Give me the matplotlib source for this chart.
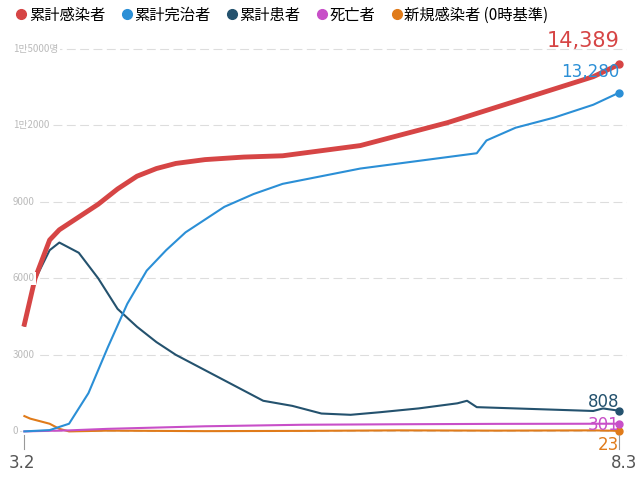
import numpy as np
import matplotlib
matplotlib.use("Agg")
import matplotlib.pyplot as plt
from matplotlib.lines import Line2D

plt.rcParams["font.family"] = ["Noto Sans CJK JP", "Noto Sans CJK KR", "DejaVu Sans"]

# x positions in days since 3.2
def days(px):
    return (np.array(px, dtype=float) - 14) / 613 * 154

conf_px = [14, 25, 40, 50, 70, 90, 110, 130, 150, 170, 200, 240, 280, 320, 360, 400, 450, 500, 550, 600, 627]
conf = [4200, 6000, 7500, 7900, 8400, 8900, 9500, 10000, 10300, 10500, 10650, 10750, 10800, 11000, 11200, 11600, 12100, 12700, 13300, 13900, 14389]

rec_px = [14, 40, 60, 80, 100, 120, 140, 160, 180, 200, 220, 250, 280, 320, 360, 400, 440, 480, 490, 520, 560, 600, 627]
rec = [0, 50, 300, 1500, 3300, 5000, 6300, 7100, 7800, 8300, 8800, 9300, 9700, 10000, 10300, 10500, 10700, 10900, 11400, 11900, 12300, 12800, 13280]

pat_px = [14, 25, 40, 50, 70, 90, 110, 130, 150, 170, 200, 230, 260, 290, 320, 350, 380, 420, 460, 470, 480, 520, 560, 600, 610, 627]
pat = [4150, 5950, 7100, 7400, 7000, 6000, 4800, 4100, 3500, 3000, 2400, 1800, 1200, 1000, 700, 650, 750, 900, 1100, 1200, 950, 900, 850, 800, 900, 808]

death_px = [14, 60, 100, 200, 300, 400, 500, 627]
death = [0, 40, 100, 200, 260, 280, 295, 301]

new_px = [14, 20, 30, 40, 50, 60, 100, 200, 300, 400, 500, 600, 627]
new = [600, 500, 400, 300, 100, 0, 30, 10, 20, 40, 30, 40, 23]

series = [
    ("累計感染者", conf_px, conf, "#d64545", 3.5, "14,389"),
    ("累計完治者", rec_px, rec, "#2b8fd6", 1.5, "13,280"),
    ("累計患者", pat_px, pat, "#24526e", 1.5, "808"),
    ("死亡者", death_px, death, "#c84fc8", 1.5, "301"),
    ("新規感染者 (0時基準)", new_px, new, "#e07b1a", 1.5, "23"),
]

fig = plt.figure(figsize=(6.4, 4.8), dpi=100)
ax = fig.add_axes([0.02, 0.08, 0.96, 0.84])
for name, px, vals, color, lw, lab in series[::-1]:
    x = days(px)
    ax.plot(x, vals, color=color, lw=lw)
    ax.plot(x[-1], vals[-1], "o", color=color, ms=5)

offs = {"14,389": 900, "13,280": 800, "808": 350, "301": -50, "23": -550}
for name, px, vals, color, lw, lab in series:
    ax.text(154, vals[-1] + offs[lab], lab, color=color, fontsize=15 if lab == "14,389" else 12,
            ha="right", va="center", family="DejaVu Sans")

yt = [0, 3000, 6000, 9000, 12000, 15000]
ytl = ["0", "3000", "6000", "9000", "1만2000", "1만5000명"]
for v, t in zip(yt, ytl):
    ax.axhline(v, color="#dddddd", lw=0.8, ls=(0, (8, 4)), zorder=0)
    ax.text(-3, v, t, color="#bbbbbb", fontsize=7, va="center", ha="left",
            bbox=dict(fc="white", ec="none", pad=1))
ax.set_xlim(-3, 156)
ax.set_ylim(-400, 15400)
ax.axis("off")
ax.plot([0, 0], [-150, -700], color="#999999", lw=0.8, clip_on=False)
ax.plot([154, 154], [-150, -700], color="#999999", lw=0.8, clip_on=False)
fig.text(0.035, 0.025, "3.2", fontsize=12, color="#555555", ha="center", family="DejaVu Sans")
fig.text(0.975, 0.025, "8.3", fontsize=12, color="#555555", ha="center", family="DejaVu Sans")

handles = [Line2D([], [], ls="", marker="o", color=c, ms=7) for _, _, _, c, _, _ in series]
fig.legend(handles, [s[0] for s in series], loc="upper left", bbox_to_anchor=(0.0, 1.015), ncol=5,
           frameon=False, fontsize=11, handletextpad=0.0, columnspacing=0.9, handlelength=1.0)
fig.savefig("out.png")
